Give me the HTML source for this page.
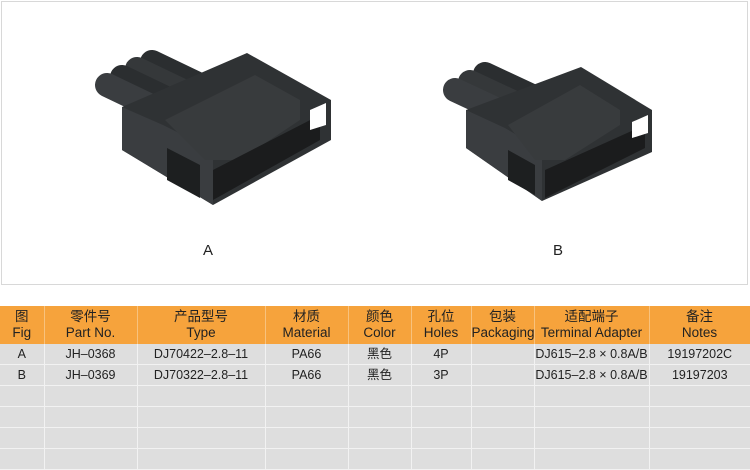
<!DOCTYPE html>
<html><head><meta charset="utf-8"><style>
body{margin:0;width:750px;height:470px;background:#fff;overflow:hidden;font-family:"Liberation Sans","Noto Sans CJK SC",sans-serif;}
.panel{position:absolute;left:1px;top:1px;width:745px;height:282px;border:1px solid #d8d8d8;}
table{position:absolute;left:0;top:306px;width:750px;border-collapse:collapse;table-layout:fixed;}
td{text-align:center;font-size:12.5px;color:#222;padding:0;border-right:1px solid #f2f2f2;border-bottom:1px solid #f2f2f2;background:#dedede;height:20px;line-height:20px}
tr.h td{background:#f6a33c;height:38px;line-height:16px;font-size:13.5px;border-right:1px solid #f8c27d;border-bottom:none}
td:last-child{border-right:none}
</style></head><body>
<div class="panel"></div>
<svg width="750" height="290" style="position:absolute;left:0;top:0">
<g stroke-linecap="round" stroke-width="24">
 <line x1="152" y1="62" x2="200" y2="85" stroke="#2b2e30"/>
 <line x1="137" y1="69" x2="185" y2="92" stroke="#35383a"/>
 <line x1="122" y1="77" x2="170" y2="100" stroke="#2b2e30"/>
 <line x1="107" y1="85" x2="155" y2="108" stroke="#3a3d40"/>
 <line x1="485" y1="74" x2="530" y2="95" stroke="#2b2e30"/>
 <line x1="470" y1="82" x2="515" y2="103" stroke="#35383a"/>
 <line x1="455" y1="90" x2="500" y2="111" stroke="#3a3d40"/>
</g>
<g>
 <polygon points="122,107 247,53 331,100 331,140 213,205 122,150" fill="#2f3234"/>
 <polygon points="122,107 163,125 213,150 213,205 122,150" fill="#3a3d40"/>
 <polygon points="165,120 255,75 300,100 300,120 240,160 205,160" fill="#383b3d"/>
 <polygon points="167,148 200,165 200,198 167,180" fill="#1d1f20"/>
 <polygon points="213,170 320,115 320,140 213,200" fill="#1b1c1d"/>
 <polygon points="310,110 326,103 326,125 310,130" fill="#fff"/>
 <polygon points="466,110 581,67 652,110 652,152 542,201 466,148" fill="#2f3234"/>
 <polygon points="466,110 505,128 542,150 542,201 466,148" fill="#3a3d40"/>
 <polygon points="508,125 580,85 620,110 620,125 565,160 535,160" fill="#383b3d"/>
 <polygon points="508,150 535,165 535,195 508,180" fill="#1d1f20"/>
 <polygon points="545,170 645,125 645,148 545,198" fill="#1b1c1d"/>
 <polygon points="632,122 648,115 648,133 632,138" fill="#fff"/>
</g>
<text x="208" y="255" font-size="15" text-anchor="middle" font-family="Liberation Sans" fill="#222">A</text>
<text x="558" y="255" font-size="15" text-anchor="middle" font-family="Liberation Sans" fill="#222">B</text>
</svg>
<table>
<colgroup><col style="width:44px"><col style="width:93px"><col style="width:128px"><col style="width:83px"><col style="width:63px"><col style="width:60px"><col style="width:63px"><col style="width:115px"><col style="width:101px"></colgroup>
<tr class="h"><td>图<br>Fig</td><td>零件号<br>Part No.</td><td>产品型号<br>Type</td><td>材质<br>Material</td><td>颜色<br>Color</td><td>孔位<br>Holes</td><td>包装<br>Packaging</td><td>适配端子<br>Terminal Adapter</td><td>备注<br>Notes</td></tr>
<tr><td>A</td><td>JH–0368</td><td>DJ70422–2.8–11</td><td>PA66</td><td>黑色</td><td>4P</td><td></td><td>DJ615–2.8 × 0.8A/B</td><td>19197202C</td></tr>
<tr><td>B</td><td>JH–0369</td><td>DJ70322–2.8–11</td><td>PA66</td><td>黑色</td><td>3P</td><td></td><td>DJ615–2.8 × 0.8A/B</td><td>19197203</td></tr>
<tr><td></td><td></td><td></td><td></td><td></td><td></td><td></td><td></td><td></td></tr>
<tr><td></td><td></td><td></td><td></td><td></td><td></td><td></td><td></td><td></td></tr>
<tr><td></td><td></td><td></td><td></td><td></td><td></td><td></td><td></td><td></td></tr>
<tr><td></td><td></td><td></td><td></td><td></td><td></td><td></td><td></td><td></td></tr>
</table>
</body></html>
